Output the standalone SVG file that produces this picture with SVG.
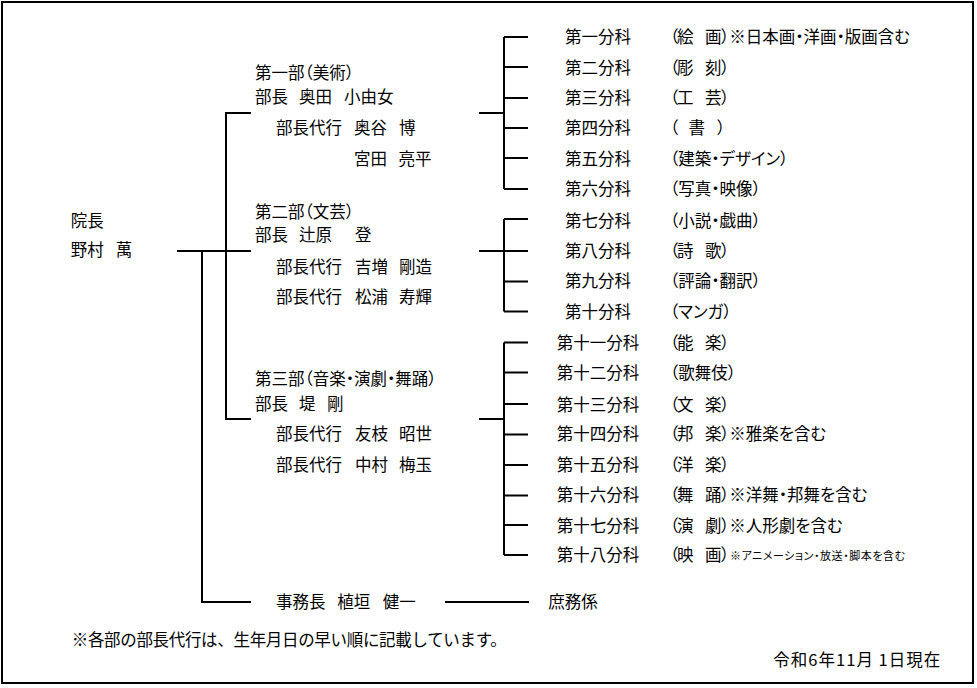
<svg xmlns="http://www.w3.org/2000/svg" width="977" height="688" viewBox="0 0 977 688">
<style>
text { font-family: "Noto Sans CJK JP", "Noto Sans CJK SC", sans-serif; font-size: 16.5px; fill: #000; font-feature-settings: "palt"; }
.np { font-feature-settings: normal; }
.sm { font-size: 11px; }
.ln { stroke: #000; stroke-width: 2; fill: none; }
</style>
<rect x="2" y="2" width="971" height="681" fill="#fff" stroke="#000" stroke-width="2"/>
<g id="connectors" class="ln">
  <path d="M177,251 H251"/>
  <path d="M202,251 V602 H251"/>
  <path d="M251,113 H226 V419 H251"/>
  <path d="M479,113 H504 M504,37 V189 M504,37 H528 M504,67 H528 M504,98 H528 M504,128 H528 M504,158 H528 M504,189 H528"/>
  <path d="M479,251 H504 M504,219 V311.5 M504,219 H528 M504,251 H528 M504,281.5 H528 M504,311.5 H528"/>
  <path d="M479,419 H504 M504,342.5 V555 M504,342.5 H528 M504,372.5 H528 M504,404 H528 M504,434.5 H528 M504,465 H528 M504,495.5 H528 M504,525 H528 M504,555 H528"/>
  <path d="M445,602 H529"/>
</g>
<g id="incho">
  <text x="70.7" y="227">院長</text>
  <text y="256"><tspan x="70.7">野村 </tspan><tspan x="115.7">萬</tspan></text>
</g>
<g id="dai1bu">
  <text x="255" y="79">第一部（美術）</text>
  <text y="103"><tspan x="255">部長 </tspan><tspan x="299">奥田 </tspan><tspan x="344">小由女</tspan></text>
  <text y="134"><tspan x="276">部長代行 </tspan><tspan x="354">奥谷 </tspan><tspan x="399">博</tspan></text>
  <text y="165"><tspan x="354">宮田 </tspan><tspan x="398.5">亮平</tspan></text>
</g>
<g id="dai2bu">
  <text x="255" y="218">第二部（文芸）</text>
  <text y="241"><tspan x="255">部長 </tspan><tspan x="299">辻原 </tspan><tspan x="355">登</tspan></text>
  <text y="273"><tspan x="276">部長代行 </tspan><tspan x="355">吉増 </tspan><tspan x="399">剛造</tspan></text>
  <text y="303"><tspan x="276">部長代行 </tspan><tspan x="355">松浦 </tspan><tspan x="399">寿輝</tspan></text>
</g>
<g id="dai3bu">
  <text x="255" y="385">第三部（音楽・演劇・舞踊）</text>
  <text y="410"><tspan x="255">部長 </tspan><tspan x="299">堤 </tspan><tspan x="327">剛</tspan></text>
  <text y="440"><tspan x="276">部長代行 </tspan><tspan x="355">友枝 </tspan><tspan x="399">昭世</tspan></text>
  <text y="471"><tspan x="276">部長代行 </tspan><tspan x="355">中村 </tspan><tspan x="399">梅玉</tspan></text>
</g>
<g id="bunka1"><text x="565" y="43">第一分科</text><text y="43"><tspan x="670">（</tspan><tspan x="677">絵 </tspan><tspan x="705">画</tspan><tspan x="721">）※日本画・洋画・版画含む</tspan></text></g>
<g id="bunka2"><text x="565" y="74">第二分科</text><text y="74"><tspan x="670">（</tspan><tspan x="677">彫 </tspan><tspan x="705">刻</tspan><tspan x="721">）</tspan></text></g>
<g id="bunka3"><text x="565" y="104">第三分科</text><text y="104"><tspan x="670">（</tspan><tspan x="677">工 </tspan><tspan x="705">芸</tspan><tspan x="721">）</tspan></text></g>
<g id="bunka4"><text x="565" y="134">第四分科</text><text y="134"><tspan x="670">（ </tspan><tspan x="688.5">書 </tspan><tspan x="717">）</tspan></text></g>
<g id="bunka5"><text x="565" y="164.5">第五分科</text><text x="670" y="164.5">（建築・デザイン）</text></g>
<g id="bunka6"><text x="565" y="194.5">第六分科</text><text x="670" y="194.5">（写真・映像）</text></g>
<g id="bunka7"><text x="565" y="227">第七分科</text><text x="670" y="227">（小説・戯曲）</text></g>
<g id="bunka8"><text x="565" y="257">第八分科</text><text y="257"><tspan x="670">（</tspan><tspan x="677">詩 </tspan><tspan x="705">歌</tspan><tspan x="721">）</tspan></text></g>
<g id="bunka9"><text x="565" y="287">第九分科</text><text x="670" y="287">（評論・翻訳）</text></g>
<g id="bunka10"><text x="565" y="318">第十分科</text><text x="670" y="318">（マンガ）</text></g>
<g id="bunka11"><text x="556.7" y="349">第十一分科</text><text y="349"><tspan x="670">（</tspan><tspan x="677">能 </tspan><tspan x="705">楽</tspan><tspan x="721">）</tspan></text></g>
<g id="bunka12"><text x="556.7" y="379">第十二分科</text><text x="670" y="379">（歌舞伎）</text></g>
<g id="bunka13"><text x="556.7" y="411">第十三分科</text><text y="411"><tspan x="670">（</tspan><tspan x="677">文 </tspan><tspan x="705">楽</tspan><tspan x="721">）</tspan></text></g>
<g id="bunka14"><text x="556.7" y="440">第十四分科</text><text y="440"><tspan x="670">（</tspan><tspan x="677">邦 </tspan><tspan x="705">楽</tspan><tspan x="721">）※雅楽を含む</tspan></text></g>
<g id="bunka15"><text x="556.7" y="471">第十五分科</text><text y="471"><tspan x="670">（</tspan><tspan x="677">洋 </tspan><tspan x="705">楽</tspan><tspan x="721">）</tspan></text></g>
<g id="bunka16"><text x="556.7" y="501">第十六分科</text><text y="501"><tspan x="670">（</tspan><tspan x="677">舞 </tspan><tspan x="705">踊</tspan><tspan x="721">）※洋舞・邦舞を含む</tspan></text></g>
<g id="bunka17"><text x="556.7" y="532">第十七分科</text><text y="532"><tspan x="670">（</tspan><tspan x="677">演 </tspan><tspan x="705">劇</tspan><tspan x="721">）※人形劇を含む</tspan></text></g>
<g id="bunka18"><text x="556.7" y="561">第十八分科</text><text y="561"><tspan x="670">（</tspan><tspan x="677">映 </tspan><tspan x="705">画</tspan><tspan x="721">）</tspan></text><text class="sm" x="730" y="560" textLength="175" lengthAdjust="spacing">※アニメーション・放送・脚本を含む</text></g>
<g id="jimucho">
  <text y="608"><tspan x="276">事務長 </tspan><tspan x="337.3">植垣 </tspan><tspan x="382.7">健一</tspan></text>
</g>
<g id="shomu"><text x="548.3" y="608">庶務係</text></g>
<text class="np" x="71.7" y="646" textLength="435" lengthAdjust="spacing">※各部の部長代行は、生年月日の早い順に記載しています。</text>
<text class="np" x="773.3" y="666" textLength="167" lengthAdjust="spacing">令和6年11月 1日現在</text>
</svg>
